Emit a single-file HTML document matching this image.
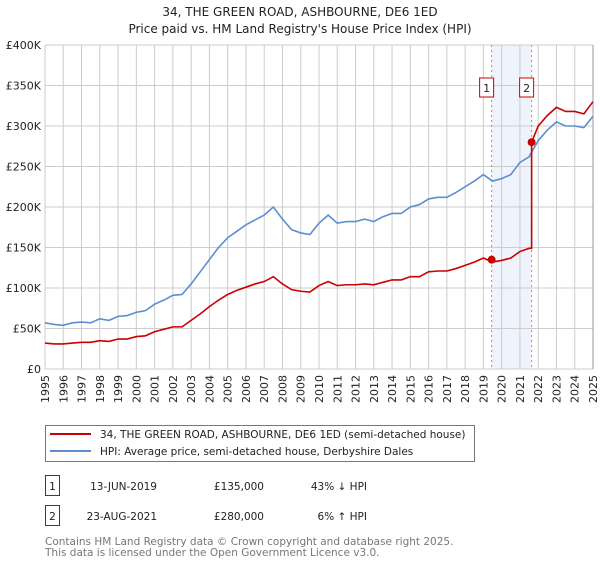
<!DOCTYPE html>
<html><head><meta charset="utf-8"><style>
body{margin:0;background:#fff;font-family:"DejaVu Sans","Liberation Sans",sans-serif;}
svg text{font-family:"DejaVu Sans","Liberation Sans",sans-serif;}
</style></head><body>
<svg id="chart" width="600" height="560" viewBox="0 0 600 560" xmlns="http://www.w3.org/2000/svg">
<text x="300" y="16" text-anchor="middle" font-size="12" fill="#222">34, THE GREEN ROAD, ASHBOURNE, DE6 1ED</text>
<text x="300" y="33" text-anchor="middle" font-size="12" fill="#222">Price paid vs. HM Land Registry's House Price Index (HPI)</text>
<g id="plot"></g>
<g>
<rect x="45.5" y="425.5" width="429" height="36" fill="#fff" stroke="#777"/>
<line x1="50" y1="434" x2="91" y2="434" stroke="#cc0000" stroke-width="2"/>
<text x="100" y="438" font-size="10.5" fill="#222">34, THE GREEN ROAD, ASHBOURNE, DE6 1ED (semi-detached house)</text>
<line x1="50" y1="451" x2="91" y2="451" stroke="#5b8fd0" stroke-width="2"/>
<text x="100" y="455" font-size="10.5" fill="#222">HPI: Average price, semi-detached house, Derbyshire Dales</text>
</g>
<g font-size="10.5" fill="#222">
<rect x="45.5" y="475.5" width="14" height="20" fill="none" stroke="#cc0000"/>
<text x="52.5" y="490" text-anchor="middle">1</text>
<text x="157" y="490" text-anchor="end">13-JUN-2019</text>
<text x="264" y="490" text-anchor="end">£135,000</text>
<text x="367" y="490" text-anchor="end">43% ↓ HPI</text>
<rect x="45.5" y="505.5" width="14" height="20" fill="none" stroke="#cc0000"/>
<text x="52.5" y="520" text-anchor="middle">2</text>
<text x="157" y="520" text-anchor="end">23-AUG-2021</text>
<text x="264" y="520" text-anchor="end">£280,000</text>
<text x="367" y="520" text-anchor="end">6% ↑ HPI</text>
</g>
<text x="45" y="545" font-size="10.5" fill="#777">Contains HM Land Registry data © Crown copyright and database right 2025.</text>
<text x="45" y="556" font-size="10.5" fill="#777">This data is licensed under the Open Government Licence v3.0.</text>
</svg>
<script>
const hpiValues=[57,55,54,57,58,57,62,60,65,66,70,72,80,85,91,92,105,120,135,150,162,170,178,184,190,200,185,172,168,166,180,190,180,182,182,185,182,188,192,192,200,203,210,212,212,218,225,232,240,232,235,240,255,262,282,295,305,300,300,298,312];
const propValues=[32,31,31,32,33,33,35,34,37,37,40,41,46,49,52,52,60,68,77,85,92,97,101,105,108,114,105,98,96,95,103,108,103,104,104,105,104,107,110,110,114,114,120,121,121,124,128,132,137,132,134,137,145,149];
const propAfterValues=[280,300,313,323,318,318,315,330];
const propAfterDates=[2021.64,2022,2022.5,2023,2023.5,2024,2024.5,2025];
const saleDates=[2019.45,2021.64];
const salePrices=[135000,280000];
const saleLabels=["1","2"];
const yTicks=[0,50,100,150,200,250,300,350,400];
const yTickLabels=["£0","£50K","£100K","£150K","£200K","£250K","£300K","£350K","£400K"];
const xYears=[1995,1996,1997,1998,1999,2000,2001,2002,2003,2004,2005,2006,2007,2008,2009,2010,2011,2012,2013,2014,2015,2016,2017,2018,2019,2020,2021,2022,2023,2024,2025];

const NS="http://www.w3.org/2000/svg";
const L=45,R=593,T=45,B=369;
const xs=d=>L+(d-1995)/30*(R-L);
const ys=v=>B-v/400*(B-T);
const g=document.getElementById('plot');
function mk(tag,attrs,parent){const e=document.createElementNS(NS,tag);for(const k in attrs)e.setAttribute(k,attrs[k]);(parent||g).appendChild(e);return e;}

const shade=mk('rect',{x:xs(saleDates[0]),y:T,width:xs(saleDates[1])-xs(saleDates[0]),height:B-T,fill:'#eef3fc'});


xYears.forEach(y=>{const l=mk('line',{x1:xs(y),x2:xs(y),y1:T,y2:B,stroke:'#ccc','stroke-width':1});


const t=mk('text',{x:0,y:0,'font-size':11,fill:'#222','text-anchor':'end',transform:`translate(${xs(y)+4},${B+6}) rotate(-90)`});t.textContent=y;

});
yTicks.forEach((v,i)=>{const l=mk('line',{x1:L,x2:R,y1:ys(v),y2:ys(v),stroke:'#ccc','stroke-width':1});


const t=mk('text',{x:L-4,y:ys(v)+4,'font-size':11,fill:'#222','text-anchor':'end'});t.textContent=yTickLabels[i];

});
const ax=mk('line',{x1:R,x2:R,y1:T,y2:B,stroke:'#999'});


saleDates.forEach((d,i)=>{const l=mk('line',{x1:xs(d),x2:xs(d),y1:T,y2:B,stroke:'#f07070','stroke-dasharray':'2,3'});


const r=mk('rect',{x:xs(d)-12,y:78,width:14,height:19,fill:'#fff',stroke:'#cc0000'});


const t=mk('text',{x:xs(d)-5,y:92,'font-size':11,fill:'#222','text-anchor':'middle'});t.textContent=saleLabels[i];

});
const hp=hpiValues.map((v,i)=>`${xs(1995+i*0.5)},${ys(v)}`).join(' ');
const hl=mk('polyline',{points:hp,fill:'none',stroke:'#5b8fd0','stroke-width':1.6});


let pp=propValues.map((v,i)=>`${xs(1995+i*0.5)},${ys(v)}`);
pp.push(`${xs(propAfterDates[0])},${ys(propValues[propValues.length-1])}`);
propAfterValues.forEach((v,i)=>pp.push(`${xs(propAfterDates[i])},${ys(v)}`));
const pl=mk('polyline',{points:pp.join(' '),fill:'none',stroke:'#cc0000','stroke-width':1.6});


saleDates.forEach((d,i)=>{const c=mk('circle',{cx:xs(d),cy:ys(salePrices[i]/1000),r:4,fill:'#cc0000'});

});
</script>
</body></html>
